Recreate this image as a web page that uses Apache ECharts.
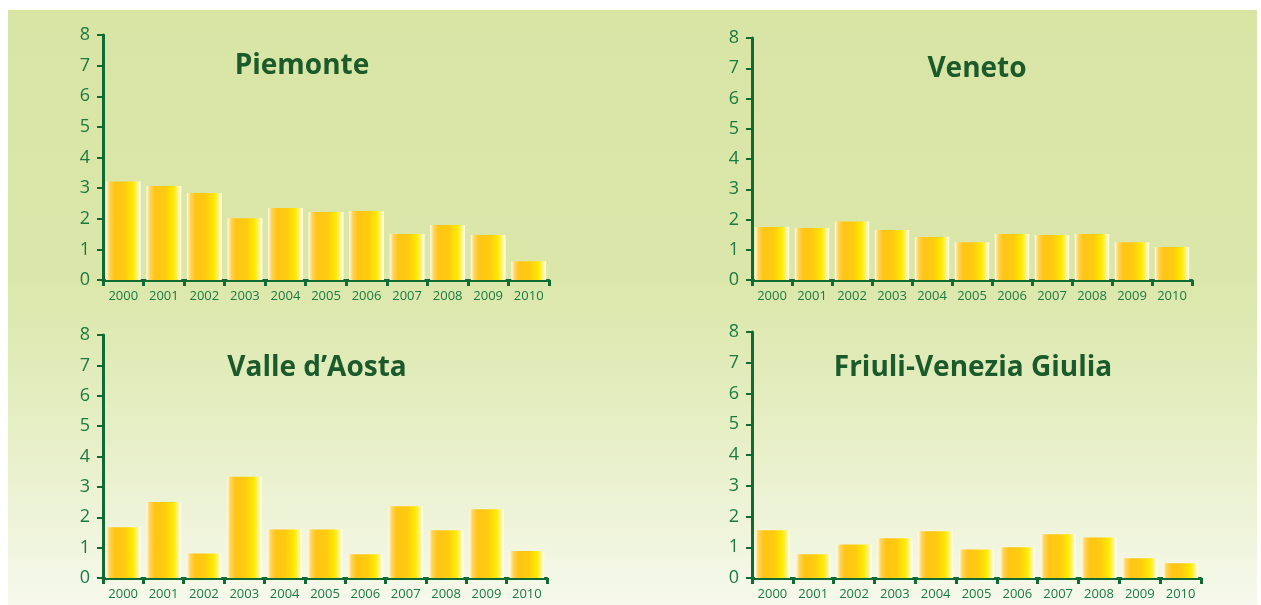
<!DOCTYPE html>
<html>
<head>
<meta charset="utf-8">
<script src="https://cdn.jsdelivr.net/npm/echarts@6/dist/echarts.min.js"></script>
<style>
  html, body { margin: 0; padding: 0; background: #ffffff; }
  #chart { width: 1261px; height: 605px; }
</style>
</head>
<body>
<div id="chart"></div>
<script>
// dati
const years = ["2000", "2001", "2002", "2003", "2004", "2005", "2006", "2007", "2008", "2009", "2010"];
const regions = ["Piemonte", "Veneto", "Valle d\u2019Aosta", "Friuli-Venezia Giulia"];
const piemonte = [3.22, 3.07, 2.84, 2.02, 2.35, 2.22, 2.25, 1.50, 1.80, 1.47, 0.61];
const veneto = [1.75, 1.72, 1.93, 1.65, 1.42, 1.25, 1.52, 1.49, 1.52, 1.25, 1.09];
const valleAosta = [1.67, 2.50, 0.81, 3.33, 1.60, 1.60, 0.78, 2.36, 1.57, 2.26, 0.89];
const friuli = [1.55, 0.77, 1.09, 1.29, 1.52, 0.93, 1.00, 1.42, 1.32, 0.64, 0.48];
const yTicks = [0, 1, 2, 3, 4, 5, 6, 7, 8];

const seriesData = [piemonte, veneto, valleAosta, friuli];

const axisGreen = "#0f6a34";
const labelGreen = "#1a7a42";
const titleGreen = "#1b5a2b";
const font = "Open Sans";

// posizioni dei quattro pannelli
const grids = [
  { left: 103, top: 35, width: 446, height: 245 },
  { left: 752, top: 38, width: 440, height: 242 },
  { left: 103, top: 335, width: 444, height: 243 },
  { left: 752, top: 332, width: 449, height: 246 }
];
const titlePos = [
  [302, 66], [977, 69], [317, 368], [973, 368]
];

const barColor = new echarts.graphic.LinearGradient(0, 0, 1, 0, [
  { offset: 0, color: "#fffbe6" },
  { offset: 0.1, color: "#ffd45a" },
  { offset: 0.25, color: "#ffc414" },
  { offset: 0.55, color: "#ffcc10" },
  { offset: 0.78, color: "#ffea00" },
  { offset: 0.9, color: "#fff37a" },
  { offset: 1, color: "#ffffff" }
]);

const chart = echarts.init(document.getElementById("chart"), null, { renderer: "canvas" });

const option = {
  animation: false,
  graphic: [{
    type: "rect",
    z: -10,
    shape: { x: 8, y: 10, width: 1249, height: 595 },
    style: {
      fill: new echarts.graphic.LinearGradient(0, 0, 0, 1, [
        { offset: 0, color: "#d9e5a5" },
        { offset: 0.45, color: "#dbe7aa" },
        { offset: 0.7, color: "#e6eec4" },
        { offset: 1, color: "#f6f9ec" }
      ])
    },
    silent: true
  }],
  title: regions.map((name, i) => ({
    text: name,
    left: titlePos[i][0],
    top: titlePos[i][1],
    padding: 0,
    textAlign: "center",
    textVerticalAlign: "middle",
    textStyle: { fontFamily: font, fontWeight: "bold", fontSize: 28, color: titleGreen }
  })),
  grid: grids,
  xAxis: grids.map((g, i) => ({
    type: "category",
    gridIndex: i,
    data: years,
    boundaryGap: true,
    axisLine: { lineStyle: { color: axisGreen, width: 3 } },
    axisTick: { show: true, alignWithLabel: false, length: 6, lineStyle: { color: axisGreen, width: 3 } },
    axisLabel: { color: labelGreen, fontFamily: font, fontSize: 13, margin: 10, interval: 0 }
  })),
  yAxis: grids.map((g, i) => ({
    type: "value",
    gridIndex: i,
    min: yTicks[0],
    max: yTicks[yTicks.length - 1],
    interval: 1,
    splitLine: { show: false },
    axisLine: { show: true, lineStyle: { color: axisGreen, width: 3 } },
    axisTick: { show: true, length: 6, lineStyle: { color: axisGreen, width: 2 } },
    axisLabel: { color: labelGreen, fontFamily: font, fontSize: 18, margin: 13 }
  })),
  series: seriesData.map((d, i) => ({
    type: "bar",
    xAxisIndex: i,
    yAxisIndex: i,
    data: d,
    barCategoryGap: "14%",
    itemStyle: { color: barColor }
  }))
};

chart.setOption(option);
</script>
</body>
</html>
